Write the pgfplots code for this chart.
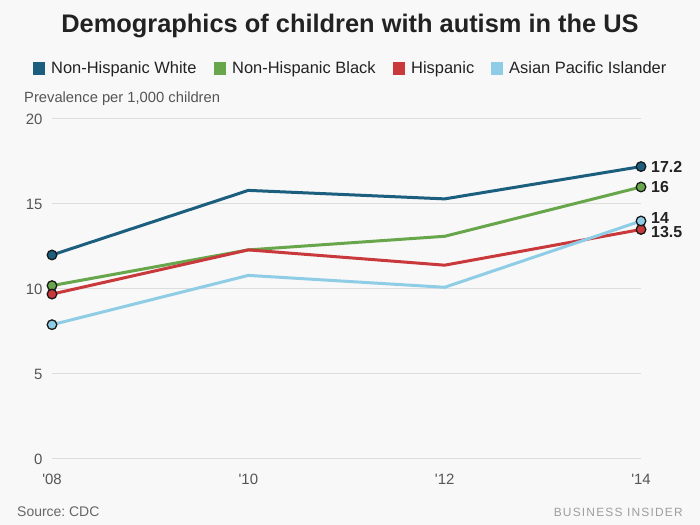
\documentclass[border=0pt]{standalone}
\usepackage{fontspec}
\setmainfont{Liberation Sans}
\newfontfamily\plainfont{Liberation Sans}
\usepackage{pgfplots}
\pgfplotsset{compat=1.18}
\definecolor{cw}{HTML}{1B5E7E}
\definecolor{cb}{HTML}{68A64B}
\definecolor{ch}{HTML}{C9393B}
\definecolor{ca}{HTML}{8FCDE6}
\definecolor{bg}{HTML}{F8F8F8}
\definecolor{gridc}{HTML}{DDDDDD}
\definecolor{tickgray}{HTML}{555555}
\definecolor{txt}{HTML}{222222}
\definecolor{edge}{HTML}{1A1A1A}
\frenchspacing
\begin{document}
\begin{tikzpicture}[x=1bp,y=1bp]
\fill[bg] (0,0) rectangle (700,525);
\path[use as bounding box] (0,0) rectangle (700,525);
% title
\node[anchor=base, inner sep=0, text=txt] at (350,492) {\bfseries\fontsize{25.5}{30}\selectfont Demographics of children with autism in the US};
% legend
\fill[cw] (33,450) rectangle (45,463);
\node[anchor=base west, inner sep=0, text=txt] at (51,451) {\fontsize{16.5}{20}\selectfont Non-Hispanic White};
\fill[cb] (214,450) rectangle (226,463);
\node[anchor=base west, inner sep=0, text=txt] at (232,451) {\fontsize{16.5}{20}\selectfont Non-Hispanic Black};
\fill[ch] (393,450) rectangle (405,463);
\node[anchor=base west, inner sep=0, text=txt] at (411,451) {\fontsize{16.5}{20}\selectfont Hispanic};
\fill[ca] (491,450) rectangle (503,463);
\node[anchor=base west, inner sep=0, text=txt] at (509,451) {\fontsize{16.5}{20}\selectfont Asian Pacific Islander};
% y label
\node[anchor=base west, inner sep=0, text=tickgray] at (24,422) {\fontsize{14.8}{18}\selectfont Prevalence per 1,000 children};
% source
\node[anchor=base west, inner sep=0, text=tickgray!90] at (17,8) {\fontsize{14}{17}\selectfont Source: CDC};
\node[anchor=base east, inner sep=0, text=black!38] at (683,8) {\fontsize{12}{15}\selectfont\addfontfeatures{LetterSpace=10}BUSINESS INSIDER};
\begin{axis}[
  at={(52bp,66bp)}, anchor=south west,
  scale only axis, width=589bp, height=340bp,
  xmin=2008, xmax=2014, ymin=0, ymax=20,
  clip=false,
  axis line style={draw=none},
  major tick length=0,
  ytick={0,5,10,15,20},
  xtick={2008,2010,2012,2014},
  xticklabels={'08,'10,'12,'14},
  ymajorgrids,
  grid style={gridc, line width=1bp},
  tick label style={font=\plainfont\fontsize{15}{18}\selectfont, text=tickgray},
  /pgf/number format/assume math mode=true,
  yticklabel style={xshift=-6bp},
  xticklabel style={yshift=-12bp},
]
\addplot[cw, line width=3bp, mark=*, mark indices={1,4}, mark size=4.8bp,
  mark options={fill=cw, draw=edge, line width=1.3bp}]
  coordinates {(2008,12.0) (2010,15.8) (2012,15.3) (2014,17.2)};
\addplot[cb, line width=3bp, mark=*, mark indices={1,4}, mark size=4.8bp,
  mark options={fill=cb, draw=edge, line width=1.3bp}]
  coordinates {(2008,10.2) (2010,12.3) (2012,13.1) (2014,16.0)};
\addplot[ch, line width=3bp, mark=*, mark indices={1,4}, mark size=4.8bp,
  mark options={fill=ch, draw=edge, line width=1.3bp}]
  coordinates {(2008,9.7) (2010,12.3) (2012,11.4) (2014,13.5)};
\addplot[ca, line width=3bp, mark=*, mark indices={1,4}, mark size=4.8bp,
  mark options={fill=ca, draw=edge, line width=1.3bp}]
  coordinates {(2008,7.9) (2010,10.8) (2012,10.1) (2014,14.0)};
\node[anchor=west, inner sep=0, xshift=10bp, text=txt, font=\bfseries\fontsize{16}{18}\selectfont] at (axis cs:2014,17.2) {17.2};
\node[anchor=west, inner sep=0, xshift=10bp, text=txt, font=\bfseries\fontsize{16}{18}\selectfont] at (axis cs:2014,16.0) {16};
\node[anchor=west, inner sep=0, xshift=10bp, yshift=3bp, text=txt, font=\bfseries\fontsize{16}{18}\selectfont] at (axis cs:2014,14.0) {14};
\node[anchor=west, inner sep=0, xshift=10bp, yshift=-3bp, text=txt, font=\bfseries\fontsize{16}{18}\selectfont] at (axis cs:2014,13.5) {13.5};
\end{axis}
\end{tikzpicture}
\end{document}
